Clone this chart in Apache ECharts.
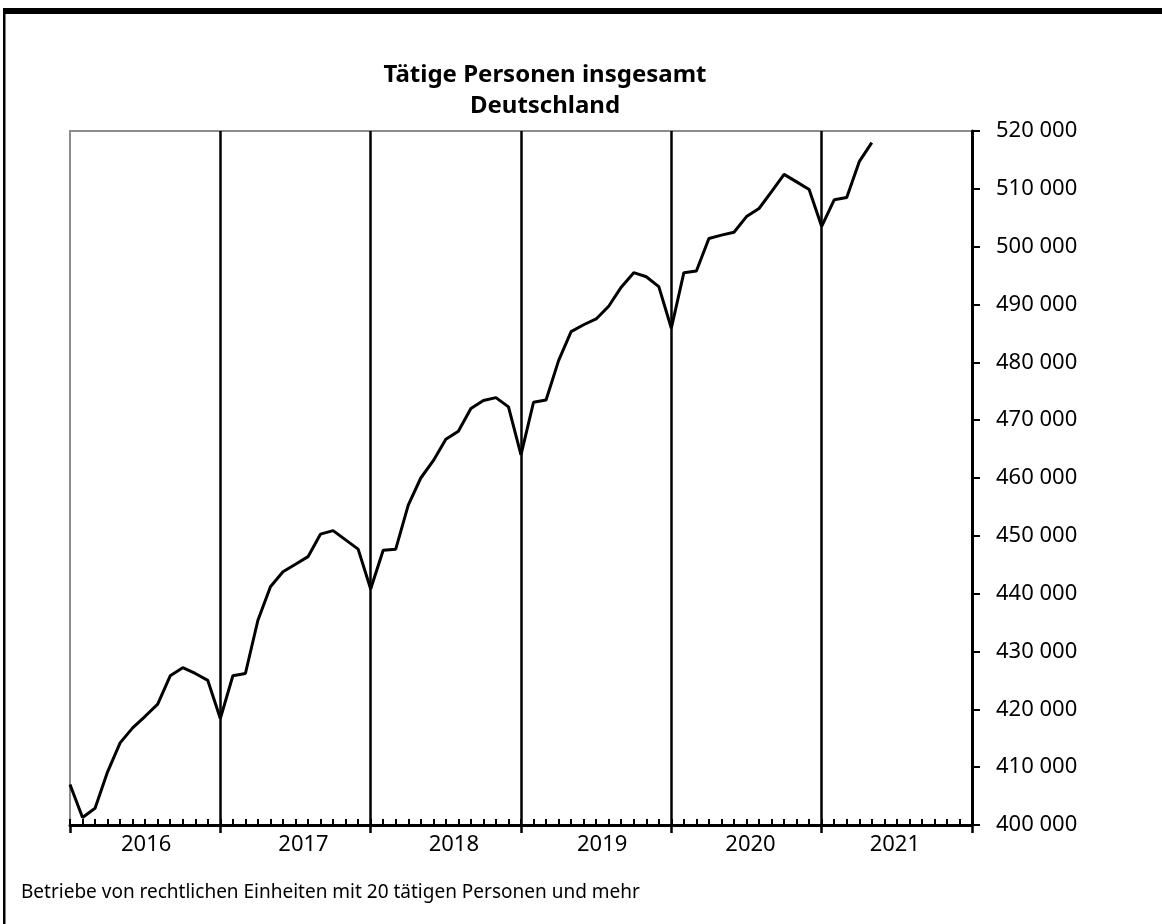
<!DOCTYPE html>
<html>
<head>
<meta charset="utf-8">
<script src="https://cdn.jsdelivr.net/npm/echarts@6/dist/echarts.min.js"></script>
<style>
html,body{margin:0;padding:0;background:#fff;}
#chart{width:1162px;height:924px;}
</style>
</head>
<body>
<div id="chart"></div>
<script>
// Monthly values, Jan 2016 .. May 2021
const values = [
  407000, 401300, 402900, 409200, 414200, 416800, 418800, 420900, 425800, 427200, 426200, 425000,
  418400, 425800, 426200, 435400, 441200, 443800, 445100, 446400, 450300, 450900, 449300, 447700,
  440800, 447500, 447700, 455300, 460000, 463000, 466700, 468100, 472000, 473400, 473900, 472300,
  464000, 473100, 473500, 480300, 485300, 486500, 487500, 489700, 493000, 495500, 494800, 493100,
  485900, 495500, 495800, 501400, 502000, 502500, 505200, 506600, 509500, 512500, 511200, 509900,
  503500, 508100, 508500, 514700, 518000
];
const yearLabels = ['2016', '2017', '2018', '2019', '2020', '2021'];
const titleLines = ['Tätige Personen insgesamt', 'Deutschland'];
const footnote = 'Betriebe von rechtlichen Einheiten mit 20 tätigen Personen und mehr';

const FONT = '"Noto Sans", "Open Sans", sans-serif';
const seriesData = values.map((v, i) => [i, v]);
const yearBounds = yearLabels.slice(1).map((_, k) => ({ xAxis: (k + 1) * 12 }));
// small horizontal nudges of the year labels (px), as placed in the original
const labelShift = [1, 8, 8, 6, 4, -2];
const rich = {};
labelShift.forEach((d, k) => {
  rich['y' + k] = {
    fontFamily: FONT, fontSize: 22, color: '#000',
    padding: d >= 0 ? [0, 0, 0, 2 * d] : [0, -2 * d, 0, 0]
  };
});

const chart = echarts.init(document.getElementById('chart'), null, { renderer: 'canvas' });
chart.setOption({
  animation: false,
  backgroundColor: '#fff',
  grid: {
    left: 70, right: 190, top: 131, bottom: 99,
    show: true, borderColor: '#8c8c8c', borderWidth: 2, backgroundColor: 'transparent'
  },
  graphic: [
    { type: 'rect', shape: { x: 3, y: 8, width: 1160, height: 6 }, style: { fill: '#000' }, silent: true },
    { type: 'rect', shape: { x: 3, y: 8, width: 2.5, height: 916 }, style: { fill: '#000' }, silent: true },
    { type: 'text', x: 545, y: 75, style: { text: titleLines[0], font: 'bold 24px ' + FONT, fill: '#000', textAlign: 'center', textVerticalAlign: 'middle' } },
    { type: 'text', x: 545, y: 106, style: { text: titleLines[1], font: 'bold 24px ' + FONT, fill: '#000', textAlign: 'center', textVerticalAlign: 'middle' } },
    { type: 'text', x: 21, y: 893, style: { text: footnote, font: '19px ' + FONT, fill: '#000', textAlign: 'left', textVerticalAlign: 'middle' } }
  ],
  xAxis: [
    {
      type: 'value', min: 0, max: 72, interval: 12, position: 'bottom',
      axisLine: { show: true, onZero: false, lineStyle: { color: '#000', width: 3 } },
      axisTick: { show: true, inside: false, length: 8, lineStyle: { color: '#000', width: 2.5 } },
      axisLabel: { show: false },
      splitLine: { show: false }
    },
    {
      type: 'value', min: 0, max: 72, interval: 1, position: 'bottom',
      axisLine: { show: false, onZero: false },
      axisTick: { show: true, inside: true, length: 6, lineStyle: { color: '#000', width: 2 } },
      axisLabel: {
        show: true, margin: 9, fontFamily: FONT, fontSize: 22, color: '#000', rich: rich,
        formatter: function (v) {
          if (v % 12 === 6) {
            const k = (v - 6) / 12;
            return yearLabels[k] ? '{y' + k + '|' + yearLabels[k] + '}' : '';
          }
          return '';
        }
      },
      splitLine: { show: false }
    }
  ],
  yAxis: {
    type: 'value', position: 'right', min: 400000, max: 520000, interval: 10000,
    axisLine: { show: true, onZero: false, lineStyle: { color: '#000', width: 3 } },
    axisTick: { show: true, inside: false, length: 8, lineStyle: { color: '#000', width: 2 } },
    axisLabel: {
      margin: 24, fontFamily: FONT, fontSize: 22, color: '#000',
      formatter: function (v) { return String(v).replace(/\B(?=(\d{3})+(?!\d))/g, ' '); }
    },
    splitLine: { show: false }
  },
  series: [{
    type: 'line', xAxisIndex: 0, data: seriesData, showSymbol: false,
    lineStyle: { color: '#000', width: 3 }, z: 3,
    markLine: {
      silent: true, symbol: ['none', 'none'], label: { show: false },
      lineStyle: { color: '#000', width: 2.5, type: 'solid' },
      data: yearBounds
    }
  }]
});
</script>
</body>
</html>
